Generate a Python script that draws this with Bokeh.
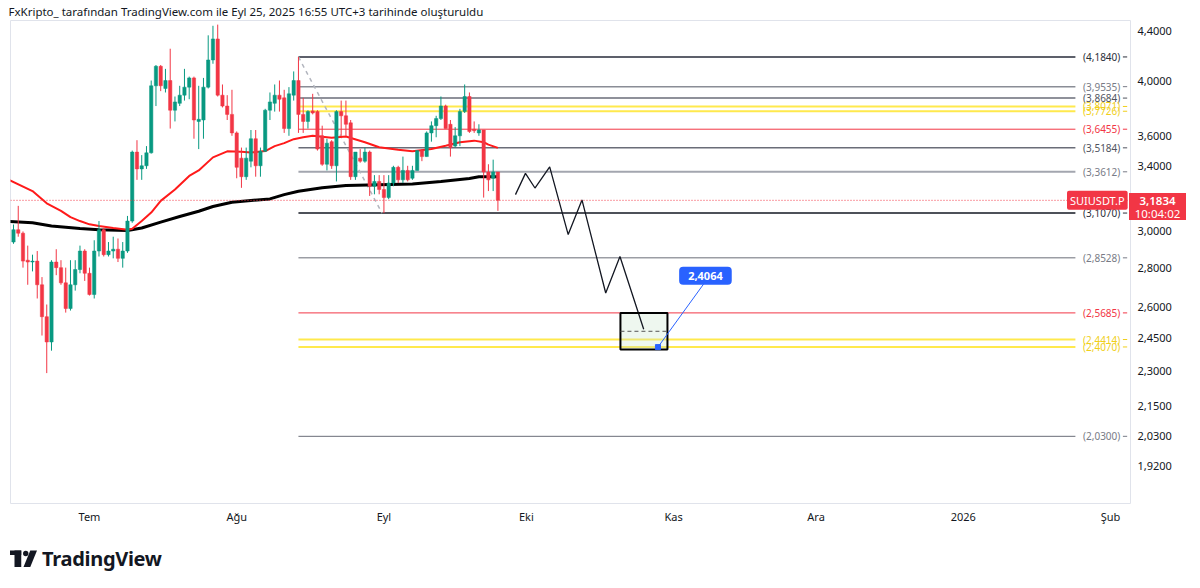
import datetime as dt
from bokeh.plotting import figure
from bokeh.models import (Range1d, FixedTicker, Label, Div, Span, ColumnDataSource,
                          CustomJSTickFormatter)
from bokeh.layouts import column
from bokeh.embed import file_html
from bokeh.resources import INLINE
from bokeh.core.properties import value

FONT = "Noto Sans"

# ---------------- data ----------------
first_day = "2025-06-15"
origin_day = "2025-07-01"

opens = [2.94, 3.01, 2.99, 2.84, 2.83, 2.835, 2.71, 2.55, 2.43, 2.83, 2.80, 2.72, 2.59, 2.71, 2.79, 2.89,
         2.77, 2.66, 2.89, 3.01, 2.87, 2.89, 2.90, 2.85, 2.89, 3.06, 3.49, 3.38, 3.40, 3.485, 3.96, 4.11,
         3.94, 4.00, 3.78, 3.83, 3.89, 3.95, 4.02, 3.70, 3.71, 3.95, 4.16, 4.33, 3.89, 3.81, 3.75, 3.62,
         3.45, 3.33, 3.43, 3.58, 3.40, 3.495, 3.78, 3.83, 3.89, 3.87, 3.65, 3.89, 4.00, 3.75, 3.70, 3.775,
         3.77, 3.60, 3.41, 3.56, 3.40, 3.77, 3.74, 3.69, 3.33, 3.45, 3.43, 3.49, 3.27, 3.30, 3.25, 3.20,
         3.29, 3.39, 3.31, 3.37, 3.32, 3.37, 3.50, 3.46, 3.62, 3.67, 3.72, 3.81, 3.68, 3.53, 3.60, 3.77,
         3.88, 3.645, 3.62, 3.64, 3.36, 3.32, 3.36]
highs = [3.04, 3.15, 3.00, 2.92, 2.87, 2.89, 2.75, 2.61, 2.84, 2.90, 2.84, 2.80, 2.84, 2.84, 2.92, 2.90,
         2.80, 2.95, 3.06, 3.02, 2.94, 2.97, 2.96, 2.94, 3.09, 3.50, 3.57, 3.47, 3.53, 4.00, 4.12, 4.12,
         4.09, 4.25, 3.88, 3.96, 4.09, 4.03, 4.03, 3.96, 4.02, 4.36, 4.44, 4.45, 3.97, 3.89, 3.93, 3.63,
         3.52, 3.52, 3.64, 3.64, 3.52, 3.79, 3.91, 3.97, 4.00, 3.93, 3.95, 4.07, 4.184, 3.87, 3.78, 3.90,
         3.78, 3.67, 3.58, 3.57, 3.78, 3.85, 3.85, 3.71, 3.49, 3.51, 3.52, 3.50, 3.34, 3.34, 3.34, 3.34,
         3.40, 3.40, 3.46, 3.40, 3.40, 3.50, 3.51, 3.63, 3.70, 3.74, 3.88, 3.82, 3.71, 3.66, 3.79, 3.97,
         3.91, 3.70, 3.68, 3.64, 3.41, 3.44, 3.36]
lows = [2.93, 2.97, 2.80, 2.71, 2.78, 2.64, 2.46, 2.29, 2.39, 2.76, 2.71, 2.57, 2.58, 2.68, 2.77, 2.73,
        2.655, 2.64, 2.86, 2.86, 2.86, 2.85, 2.83, 2.80, 2.88, 3.05, 3.31, 3.31, 3.38, 3.48, 3.81, 3.92,
        3.91, 3.65, 3.70, 3.81, 3.85, 3.86, 3.58, 3.51, 3.58, 3.94, 4.13, 3.88, 3.80, 3.71, 3.60, 3.32,
        3.26, 3.31, 3.39, 3.33, 3.33, 3.49, 3.71, 3.77, 3.77, 3.62, 3.60, 3.85, 3.62, 3.62, 3.65, 3.75,
        3.50, 3.40, 3.37, 3.38, 3.30, 3.60, 3.60, 3.31, 3.31, 3.42, 3.42, 3.21, 3.22, 3.22, 3.107, 3.19,
        3.27, 3.29, 3.29, 3.30, 3.31, 3.37, 3.43, 3.46, 3.56, 3.59, 3.71, 3.65, 3.46, 3.52, 3.53, 3.76,
        3.62, 3.62, 3.60, 3.20, 3.24, 3.24, 3.12]
closes = [3.01, 2.99, 2.835, 2.83, 2.835, 2.71, 2.55, 2.43, 2.83, 2.80, 2.72, 2.59, 2.71, 2.79, 2.89, 2.77,
          2.66, 2.89, 3.01, 2.87, 2.89, 2.90, 2.85, 2.89, 3.06, 3.49, 3.38, 3.40, 3.485, 3.96, 4.11, 3.96,
          4.00, 3.78, 3.84, 3.89, 3.95, 4.02, 3.71, 3.715, 3.95, 4.16, 4.33, 3.89, 3.81, 3.75, 3.62, 3.39,
          3.33, 3.45, 3.58, 3.40, 3.495, 3.78, 3.84, 3.89, 3.86, 3.65, 3.90, 4.00, 3.75, 3.70, 3.77, 3.76,
          3.51, 3.41, 3.55, 3.40, 3.77, 3.74, 3.68, 3.33, 3.49, 3.43, 3.49, 3.27, 3.30, 3.25, 3.20, 3.29,
          3.39, 3.31, 3.37, 3.31, 3.37, 3.50, 3.46, 3.62, 3.67, 3.72, 3.81, 3.65, 3.52, 3.60, 3.77, 3.88,
          3.63, 3.635, 3.64, 3.36, 3.31, 3.36, 3.1834]

# moving averages (day offset from 1 Jul 2025, value)
ma_red_days = [-17, -12, -9, -6, -4, -2, 0, 2, 5, 8, 9, 11, 13, 15, 18, 21, 23, 26, 29, 32, 34, 37, 39,
               41, 43, 45, 47, 51, 54, 58, 61, 65, 68, 72, 75, 78, 81, 83, 84, 86]
ma_red_vals = [3.31, 3.24, 3.165, 3.12, 3.083, 3.06, 3.041, 3.031, 3.02, 3.01, 3.015, 3.06, 3.11, 3.18,
               3.25, 3.335, 3.37, 3.455, 3.495, 3.493, 3.487, 3.497, 3.53, 3.55, 3.577, 3.59, 3.60,
               3.586, 3.595, 3.556, 3.522, 3.505, 3.495, 3.511, 3.533, 3.556, 3.567, 3.556, 3.54, 3.518]
ma_black_days = [-17, -12, -8, -2, 2, 8, 11, 15, 19, 23, 26, 30, 34, 38, 41, 44, 49, 54, 61, 68, 74,
                 80, 82, 86]
ma_black_vals = [3.058, 3.05, 3.031, 3.017, 3.01, 3.005, 3.02, 3.054, 3.087, 3.118, 3.146, 3.172,
                 3.182, 3.192, 3.218, 3.239, 3.26, 3.274, 3.28, 3.284, 3.30, 3.319, 3.33, 3.33]

# Fibonacci levels
fib_levels = [4.1840, 3.9535, 3.8684, 3.8071, 3.7726, 3.6455, 3.5184, 3.3612, 3.1070, 2.8528,
              2.5685, 2.4414, 2.4070, 2.0300]
fib_labels = ["(4,1840)", "(3,9535)", "(3,8684)", "(3,8071)", "(3,7726)", "(3,6455)", "(3,5184)",
              "(3,3612)", "(3,1070)", "(2,8528)", "(2,5685)", "(2,4414)", "(2,4070)", "(2,0300)"]
fib_line_colors = ["#5d606b", "#8a8d96", "#6a6d78", "#ffe94d", "#ffe94d", "#f23645", "#6a6d78",
                   "#a3a6af", "#131722", "#6a6d78", "#f23645", "#ffe94d", "#ffe94d", "#6a6d78"]
fib_text_colors = ["#2a2e39", "#787b86", "#50535e", "#f0cf1a", "#f0cf1a", "#f23645", "#50535e",
                   "#787b86", "#2a2e39", "#787b86", "#f23645", "#f0cf1a", "#f0cf1a", "#787b86"]
fib_widths = [2, 1.5, 1.5, 2, 2, 1, 1.5, 2, 1.5, 1, 1, 2, 2, 1]
fib_start_day, fib_end_day = 44, 207.6
fib_text_day = 209.2

# projected path
path_days = [89.7, 91.8, 93.8, 96.9, 100.8, 103.7, 108.7, 111.7, 116.7]
path_prices = [3.218, 3.351, 3.259, 3.393, 2.982, 3.186, 2.668, 2.860, 2.49]

# target box & label
box_left, box_right, box_top, box_bottom, box_mid = 111.8, 121.7, 2.5685, 2.395, 2.48
target_day, target_price = 119.7, 2.4064
target_label_day, target_label_price = 129.7, 2.757

last_price = 3.1834
symbol = "SUIUSDT.P"
countdown = "10:04:02"

month_ticks = [0, 31, 62, 92, 123, 153, 184, 215]
month_names = ["Tem", "Ağu", "Eyl", "Eki", "Kas", "Ara", "2026", "Şub"]
price_ticks = [4.4, 4.0, 3.6, 3.4, 3.0, 2.8, 2.6, 2.45, 2.3, 2.15, 2.03, 1.92]

# ---------------- derived ----------------
d0 = (dt.date.fromisoformat(first_day) - dt.date.fromisoformat(origin_day)).days
xs = [d0 + i for i in range(len(opens))]
UP, DN = "#089981", "#f23645"
cols = [UP if c >= o else DN for o, c in zip(opens, closes)]
src = ColumnDataSource(dict(x=xs, o=opens, h=highs, l=lows, c=closes,
                            top=[max(o, c) for o, c in zip(opens, closes)],
                            bot=[min(o, c) for o, c in zip(opens, closes)], col=cols))

p = figure(width=1200, height=531, y_axis_type="log", y_axis_location="right",
           x_range=Range1d(-16.63, 219.2), y_range=Range1d(1.786, 4.485),
           output_backend="svg", toolbar_location=None,
           min_border_left=10, min_border_right=70, min_border_top=20, min_border_bottom=28)
p.title.text = "FxKripto_ tarafından TradingView.com ile Eyl 25, 2025 16:55 UTC+3 tarihinde oluşturuldu"
p.title.text_font = FONT
p.title.text_font_size = "11.5px"
p.title.text_font_style = "normal"
p.title.text_color = "#131722"
p.title.standoff = 3
p.title.offset = -2
p.outline_line_color = "#e0e3eb"
p.xgrid.visible = False
p.ygrid.visible = False
p.background_fill_color = "white"
p.border_fill_color = "white"

# axes
p.xaxis.ticker = FixedTicker(ticks=month_ticks)
p.xaxis.major_label_overrides = {t: n for t, n in zip(month_ticks, month_names)}
p.yaxis.ticker = FixedTicker(ticks=price_ticks)
p.yaxis.formatter = CustomJSTickFormatter(code="return tick.toFixed(4).replace('.', ',');")
for ax in (p.xaxis, p.yaxis):
    ax.axis_line_color = None
    ax.major_tick_line_color = None
    ax.minor_tick_line_color = None
    ax.major_label_text_font = FONT
    ax.major_label_text_font_size = "11px"
    ax.major_label_text_color = "#131722"
p.xaxis.major_tick_out = 0
p.xaxis.major_tick_in = 0
p.xaxis.major_label_standoff = 5
p.yaxis.major_tick_out = 0
p.yaxis.major_label_standoff = 7

# fib levels
p.segment(x0=[fib_start_day] * len(fib_levels), y0=fib_levels, x1=[fib_end_day] * len(fib_levels),
          y1=fib_levels, line_color=fib_line_colors, line_width=fib_widths)
p.text(x=[fib_text_day] * len(fib_levels), y=fib_levels, text=fib_labels, text_color=fib_text_colors,
       text_font=value(FONT), text_font_size="10px", text_baseline="middle", text_align="left")
p.segment(x0=[217.6] * len(fib_levels), y0=fib_levels, x1=[218.5] * len(fib_levels), y1=fib_levels,
          line_color=fib_text_colors, line_width=1)
# fib trend (dashed diagonal from high to low)
p.line([fib_start_day, 61.6], [4.1840, 3.1070], line_color="#b2b5be", line_dash="4 4", line_width=1.5)

# target box fill
p.quad(left=[box_left], right=[box_right], top=[box_top], bottom=[box_bottom],
       fill_color="#c8e6c9", fill_alpha=0.3, line_color=None)

# current price line
p.add_layout(Span(location=last_price, dimension="width", line_color="#f23645",
                  line_dash="1 2", line_width=1))

# moving averages
p.line(ma_black_days, ma_black_vals, line_color="black", line_width=3)
p.line(ma_red_days, ma_red_vals, line_color="#ff1a1a", line_width=2)

# candles
p.segment(x0="x", y0="h", x1="x", y1="l", line_color="col", line_width=1, source=src)
p.vbar(x="x", width=0.7, top="top", bottom="bot", fill_color="col", line_color="col",
       line_width=0.5, source=src)

# projected path
p.line(path_days, path_prices, line_color="#131722", line_width=1.3)

# target box border + mid dashed line
p.quad(left=[box_left], right=[box_right], top=[box_top], bottom=[box_bottom],
       fill_color=None, line_color="black", line_width=2)
p.segment(x0=[box_left], y0=[box_mid], x1=[box_right], y1=[box_mid], line_color="#555555",
          line_dash="4 3", line_width=1)

# target connector and label
p.segment(x0=[target_day], y0=[target_price], x1=[target_label_day - 0.2], y1=[2.72],
          line_color="#2962ff", line_width=1)
p.scatter([target_day], [target_price], marker="square", size=5, color="#2962ff")
p.add_layout(Label(x=target_label_day, y=target_label_price, text="2,4064", text_align="center",
                   text_baseline="middle", text_color="white", text_font=FONT,
                   text_font_size="11px", text_font_style="bold",
                   background_fill_color="#2962ff", padding=(9, 5), border_radius=4))

# symbol tag (inside the pane)
p.add_layout(Label(x=218.6, y=last_price, text=symbol, text_align="right", text_baseline="middle",
                   text_color="white", text_font=FONT, text_font_size="11px",
                   background_fill_color="#f23645", padding=(3, 2), border_radius=2))

price_txt = f"{last_price:.4f}".replace(".", ",")
tag_html = (f'<div style="position:absolute;left:1119px;top:-352px;width:57px;height:27px;'
            f'background:#f23645;color:white;font-family:{FONT};font-size:11.5px;line-height:13px;'
            f'text-align:center;padding-top:1px;box-sizing:border-box;z-index:10">'
            f'<div style="font-weight:600">{price_txt}</div><div>{countdown}</div></div>')

logo_svg = ('<svg width="27" height="19" viewBox="0 0 36 24" style="margin-right:5px">'
            '<rect x="0" y="0" width="15" height="6" fill="#131722"/>'
            '<rect x="6" y="0" width="9" height="22" fill="#131722"/>'
            '<circle cx="21" cy="4" r="3.6" fill="#131722"/>'
            '<polygon points="27,0 36,0 27,22 18,22" fill="#131722"/></svg>')
logo = Div(text=f'<div style="position:relative">{tag_html}'
                f'<div style="display:flex;align-items:center;font-family:{FONT};font-weight:700;'
                f'font-size:20px;color:#131722;letter-spacing:-0.3px">{logo_svg}TradingView</div></div>',
           width=1180, height=43, margin=(14, 0, 0, 10), styles={"overflow": "visible", "z-index": "5"})

layout = column(p, logo, spacing=0)
open("out.html", "w").write(file_html(layout, INLINE))
